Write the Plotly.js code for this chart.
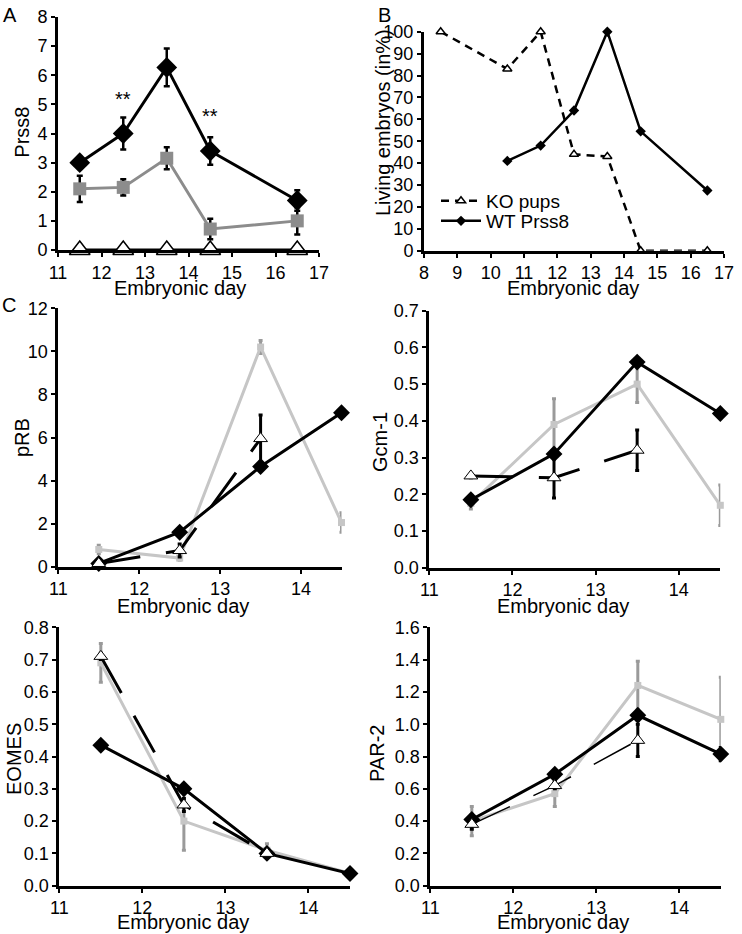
<!DOCTYPE html>
<html>
<head>
<meta charset="utf-8">
<script src="https://cdn.plot.ly/plotly-3.0.1.min.js"></script>
<style>html,body{margin:0;padding:0;background:#fff;}#chart{width:742px;height:934px;}</style>
</head>
<body>
<div id="chart"></div>
<script>
// ---------- Panel A: Prss8 expression ----------
const daysA = [11.5, 12.5, 13.5, 14.5, 16.5];
const prss8Black = [3.0, 4.0, 6.27, 3.4, 1.7];
const prss8BlackErr = [0.1, 0.55, 0.65, 0.47, 0.35];
const prss8Gray = [2.1, 2.15, 3.15, 0.72, 1.0];
const prss8GrayErr = [0.45, 0.28, 0.38, 0.35, 0.47];
const prss8KO = [0, 0, 0, 0, 0];
const starDays = [12.5, 14.5];
const starLevels = [5.2, 4.6];

// ---------- Panel B: living embryos ----------
const daysKOpups = [8.5, 10.5, 11.5, 12.5, 13.5, 14.5, 16.5];
const koPups = [100, 83, 100, 44, 43, 0, 0];
const daysWTprss8 = [10.5, 11.5, 12.5, 13.5, 14.5, 16.5];
const wtPrss8 = [41, 48, 64, 100, 54.5, 27.5];

// ---------- Panel C ----------
const daysC = [11.5, 12.5, 13.5, 14.5];
const daysCko = [11.5, 12.5, 13.5];

const pRBBlack = [0.15, 1.6, 4.65, 7.15];
const pRBBlackErr = [0.05, 0.15, 0.15, 0.1];
const pRBGray = [0.8, 0.4, 10.2, 2.05];
const pRBGrayErr = [0.2, 0.1, 0.3, 0.45];
const pRBTri = [0.15, 0.75, 5.95];
const pRBTriErr = [0.05, 0.3, 1.1];

const gcmBlack = [0.185, 0.31, 0.56, 0.42];
const gcmBlackErr = [0.01, 0.01, 0.01, 0.01];
const gcmGray = [0.175, 0.39, 0.5, 0.17];
const gcmGrayErr = [0.015, 0.07, 0.05, 0.055];
const gcmTri = [0.25, 0.245, 0.32];
const gcmTriErr = [0.005, 0.055, 0.055];

const eomesBlack = [0.435, 0.30, 0.10, 0.038];
const eomesBlackErr = [0.005, 0.01, 0.005, 0.003];
const eomesGray = [0.69, 0.20, 0.11, 0.038];
const eomesGrayErr = [0.06, 0.09, 0.02, 0.005];
const eomesTri = [0.71, 0.25, 0.10];
const eomesTriErr = [0.01, 0.02, 0.01];

const par2Black = [0.41, 0.69, 1.055, 0.815];
const par2BlackErr = [0.03, 0.02, 0.03, 0.04];
const par2Gray = [0.40, 0.57, 1.24, 1.03];
const par2GrayErr = [0.09, 0.08, 0.15, 0.26];
const par2Tri = [0.38, 0.62, 0.9];
const par2TriErr = [0.03, 0.02, 0.1];

const FONT = 'Liberation Sans, Arial, Helvetica, sans-serif';
const LIGHT = '#c6c6c6';
const MID = '#9a9a9a';

function err(arr, color, thick, width) {
  return {type: 'data', array: arr, visible: true, color: color, thickness: thick, width: width};
}

const traces = [];
// Panel A
traces.push({x: daysA, y: prss8Gray, xaxis: 'x', yaxis: 'y', mode: 'lines+markers', showlegend: false, cliponaxis: false,
  line: {color: '#8c8c8c', width: 3}, marker: {symbol: 'square', size: 13, color: '#8c8c8c'},
  error_y: err(prss8GrayErr, '#000', 2.5, 3)});
traces.push({x: daysA, y: prss8Black, xaxis: 'x', yaxis: 'y', mode: 'lines+markers', showlegend: false, cliponaxis: false,
  line: {color: '#000', width: 3}, marker: {symbol: 'diamond', size: 16, color: '#000'},
  error_y: err(prss8BlackErr, '#000', 2.5, 3)});
traces.push({x: daysA, y: prss8KO, xaxis: 'x', yaxis: 'y', mode: 'lines+markers', showlegend: false, cliponaxis: false,
  line: {color: '#000', width: 3}, marker: {symbol: 'triangle-up', size: 18, color: '#fff', line: {color: '#000', width: 1.5}}});

// Panel B
traces.push({x: daysKOpups, y: koPups, xaxis: 'x2', yaxis: 'y2', name: 'KO pups', legend: 'legend', mode: 'lines+markers', cliponaxis: false,
  line: {color: '#000', width: 2.5, dash: '8px,6px'}, marker: {symbol: 'triangle-up', size: 8, color: '#fff', line: {color: '#000', width: 1.5}}});
traces.push({x: daysWTprss8, y: wtPrss8, xaxis: 'x2', yaxis: 'y2', name: 'WT Prss8', legend: 'legend2', mode: 'lines+markers', cliponaxis: false,
  line: {color: '#000', width: 2.5}, marker: {symbol: 'diamond', size: 8, color: '#000'}});

// Panel C helper
function cPanel(xa, ya, black, blackErr, gray, grayErr, tri, triErr, triWidth) {
  traces.push({x: daysC, y: gray, xaxis: xa, yaxis: ya, mode: 'lines+markers', showlegend: false, cliponaxis: false,
    line: {color: LIGHT, width: 3}, marker: {symbol: 'square', size: 7, color: LIGHT},
    error_y: err(grayErr, MID, 3, 2)});
  traces.push({x: daysC, y: black, xaxis: xa, yaxis: ya, mode: 'lines+markers', showlegend: false, cliponaxis: false,
    line: {color: '#000', width: 3}, marker: {symbol: 'diamond', size: 13, color: '#000'},
    error_y: err(blackErr, '#000', 3, 2)});
  traces.push({x: daysCko, y: tri, xaxis: xa, yaxis: ya, mode: 'lines+markers', showlegend: false, cliponaxis: false,
    line: {color: '#000', width: triWidth, dash: '42px,26px'}, marker: {symbol: 'triangle-up', size: 12, color: '#fff', line: {color: '#000', width: 1}},
    error_y: err(triErr, '#000', 3, 2)});
}
cPanel('x3', 'y3', pRBBlack, pRBBlackErr, pRBGray, pRBGrayErr, pRBTri, pRBTriErr, 3);
cPanel('x4', 'y4', gcmBlack, gcmBlackErr, gcmGray, gcmGrayErr, gcmTri, gcmTriErr, 3);
cPanel('x5', 'y5', eomesBlack, eomesBlackErr, eomesGray, eomesGrayErr, eomesTri, eomesTriErr, 3);
cPanel('x6', 'y6', par2Black, par2BlackErr, par2Gray, par2GrayErr, par2Tri, par2TriErr, 1.5);

function axis(domain, range, dtick, anchor, fmt) {
  const a = {domain: domain, range: range, dtick: dtick, tick0: 0, anchor: anchor,
    showline: true, linewidth: 3, linecolor: '#000', mirror: false,
    ticks: 'outside', ticklen: 4, tickwidth: 2, tickcolor: '#000',
    showgrid: false, zeroline: false, fixedrange: true,
    tickfont: {family: FONT, size: 18, color: '#000'}};
  if (fmt) a.tickformat = fmt;
  return a;
}

const W = 742, H = 934;
function px(x) { return x / W; }
function py(y) { return 1 - y / H; }

const legendBase = {xanchor: 'left', yanchor: 'middle', bgcolor: 'rgba(0,0,0,0)', borderwidth: 0,
  font: {family: FONT, size: 19, color: '#000'}, itemwidth: 40};

const layout = {
  width: W, height: H,
  margin: {l: 0, r: 0, t: 0, b: 0},
  paper_bgcolor: '#fff', plot_bgcolor: 'rgba(0,0,0,0)',
  font: {family: FONT, color: '#000'},
  showlegend: true,
  legend: Object.assign({}, legendBase, {x: px(436), y: py(201)}),
  legend2: Object.assign({}, legendBase, {x: px(436), y: py(221)}),
  xaxis: axis([px(58), px(319)], [11, 17], 1, 'y'),
  yaxis: axis([py(250), py(17)], [0, 8], 1, 'x'),
  xaxis2: axis([px(424), px(724)], [8, 17], 1, 'y2'),
  yaxis2: axis([py(250.7), py(31.7)], [0, 100], 10, 'x2'),
  xaxis3: axis([px(58.3), px(341.5)], [11, 14.5], 1, 'y3'),
  yaxis3: axis([py(566.7), py(308.3)], [0, 12], 2, 'x3'),
  xaxis4: axis([px(429.3), px(720.3)], [11, 14.5], 1, 'y4'),
  yaxis4: axis([py(567.7), py(310.7)], [0, 0.7], 0.1, 'x4', '.1f'),
  xaxis5: axis([px(59.3), px(350)], [11, 14.5], 1, 'y5'),
  yaxis5: axis([py(885.7), py(627.3)], [0, 0.8], 0.1, 'x5', '.1f'),
  xaxis6: axis([px(430.3), px(720.8)], [11, 14.5], 1, 'y6'),
  yaxis6: axis([py(885.7), py(627.3)], [0, 1.6], 0.2, 'x6', '.1f'),
  annotations: []
};

function txt(x, y, text, size, angle) {
  layout.annotations.push({xref: 'paper', yref: 'paper', x: px(x), y: py(y), text: text, showarrow: false,
    xanchor: 'center', yanchor: 'middle', textangle: angle || 0, font: {family: FONT, size: size, color: '#000'}});
}
// panel letters
txt(10, 14.5, 'A', 20);
txt(384, 14.5, 'B', 20);
txt(9, 305, 'C', 20);
// x titles
txt(180, 288, 'Embryonic day', 20);
txt(572.7, 288, 'Embryonic day', 20);
txt(183, 606, 'Embryonic day', 20);
txt(562.7, 606, 'Embryonic day', 20);
txt(183, 922, 'Embryonic day', 20);
txt(562.7, 922, 'Embryonic day', 20);
// y titles
txt(22, 132.7, 'Prss8', 20, -90);
txt(383, 122, 'Living embryos (in%)', 20, -90);
txt(22, 438, 'pRB', 20, -90);
txt(380, 442, 'Gcm-1', 20, -90);
txt(14, 759, 'EOMES', 20, -90);
txt(377, 754, 'PAR-2', 20, -90);
// significance stars (data coords)
for (let i = 0; i < starDays.length; i++) {
  layout.annotations.push({xref: 'x', yref: 'y', x: starDays[i], y: starLevels[i], text: '**', showarrow: false,
    font: {family: FONT, size: 20, color: '#000'}});
}

Plotly.newPlot('chart', traces, layout, {staticPlot: true, displayModeBar: false});
</script>
</body>
</html>
